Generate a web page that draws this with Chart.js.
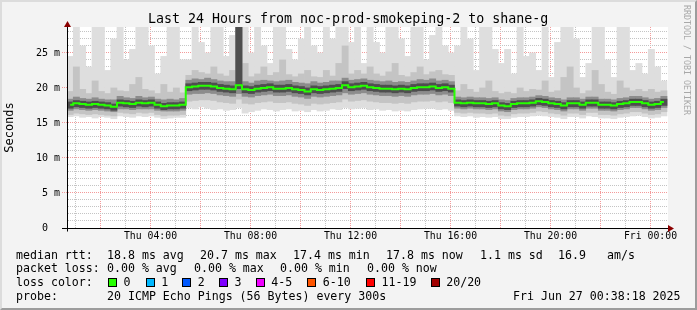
<!DOCTYPE html>
<html lang="en">
<head>
<meta charset="UTF-8">
<title>Last 24 Hours from noc-prod-smokeping-2 to shane-g</title>
<script src="https://cdn.jsdelivr.net/npm/chart.js"></script>
<style>
    body { margin: 0; background: #f3f3f3; }
    #graph { position: relative; width: 697px; height: 310px; background: #f3f3f3; overflow: hidden;
             font-family: 'DejaVu Sans Mono', monospace; color: #000; }
    #graph canvas { position: absolute; left: 0; top: 0; }
    .frame { position: absolute; left: 0; top: 0; width: 697px; height: 310px; box-sizing: border-box;
             border-top: 2px solid #dcdcdc; border-left: 2px solid #dcdcdc;
             border-right: 2px solid #9c9c9c; border-bottom: 2px solid #9c9c9c; pointer-events: none; }
    .t { position: absolute; white-space: pre; font-size: 11.6px; line-height: 14px; }
    .title { position: absolute; left: 148px; top: 11px; font-size: 13.3px; line-height: 16px; white-space: pre; }
    .credit { position: absolute; left: 682px; top: 5px; font-size: 8.3px; line-height: 10px; color: #a8a8a8;
              writing-mode: vertical-rl; white-space: pre; }
    .sq { position: absolute; top: 278px; width: 9px; height: 9px; box-sizing: border-box; border: 1px solid #000; }
</style>
</head>
<body>
<div id="graph">
    <canvas id="smoke" width="697" height="310"></canvas>
    <div class="title">Last 24 Hours from noc-prod-smokeping-2 to shane-g</div>
    <div class="credit">RRDTOOL / TOBI OETIKER</div>

    <div class="t" style="left:16px; top:248px">median rtt:</div>
    <div class="t" style="left:107px; top:248px">18.8 ms avg</div>
    <div class="t" style="left:200px; top:248px">20.7 ms max</div>
    <div class="t" style="left:293px; top:248px">17.4 ms min</div>
    <div class="t" style="left:386px; top:248px">17.8 ms now</div>
    <div class="t" style="left:480px; top:248px">1.1 ms sd</div>
    <div class="t" style="left:558px; top:248px">16.9</div>
    <div class="t" style="left:607px; top:248px">am/s</div>

    <div class="t" style="left:16px; top:261px">packet loss:</div>
    <div class="t" style="left:107px; top:261px">0.00 % avg</div>
    <div class="t" style="left:194px; top:261px">0.00 % max</div>
    <div class="t" style="left:280px; top:261px">0.00 % min</div>
    <div class="t" style="left:367px; top:261px">0.00 % now</div>

    <div class="t" style="left:16px; top:275px">loss color:</div>
    <div id="lossLegend"></div>

    <div class="t" style="left:16px; top:289px">probe:</div>
    <div class="t" style="left:107px; top:289px">20 ICMP Echo Pings (56 Bytes) every 300s</div>
    <div class="t" style="left:513px; top:289px">Fri Jun 27 00:38:18 2025</div>

    <div class="frame"></div>
</div>

<script>
    // time axis: hours since Thu 00:00, one column per 15 minutes
    const startHour = 0.66;
    const endHour = 24.70;
    const stepHours = 0.25;

    // median rtt (ms)
    const median = [
        17.6, 17.8, 17.7, 17.6, 17.7, 17.6, 17.5, 17.3, 17.9, 17.8, 17.7, 17.9, 17.8, 17.9, 17.6, 17.4,
        17.5, 17.5, 17.6, 20.1, 20.2, 20.3, 20.3, 20.2, 20.0, 19.9, 19.8, 20.4, 19.8, 19.7, 19.9, 20.0,
        20.1, 19.9, 19.9, 20.0, 19.8, 19.7, 19.5, 19.8, 19.7, 19.8, 19.9, 20.0, 20.4, 20.1, 20.2, 20.3,
        20.1, 20.0, 19.9, 19.9, 19.8, 19.9, 19.8, 20.0, 20.1, 20.1, 20.2, 20.0, 20.1, 19.9, 17.9, 17.8,
        17.9, 17.8, 17.8, 17.7, 17.8, 17.5, 17.4, 17.7, 17.8, 17.8, 17.9, 18.1, 18.0, 17.8, 17.7, 17.5,
        17.8, 17.8, 17.6, 17.9, 17.9, 17.6, 17.6, 17.5, 17.7, 17.8, 18.0, 18.0, 17.8, 17.6, 17.7, 18.0
    ];

    // smoke: highest ping of each column
    const pingMax = [
        24.5, 28.7, 26.0, 23.0, 28.7, 28.7, 22.5, 27.0, 28.7, 24.0, 25.5, 28.7, 28.7, 26.0, 22.0, 24.5,
        28.7, 28.7, 24.0, 24.0, 28.7, 26.5, 25.0, 28.7, 28.7, 24.5, 27.5, 28.7, 28.7, 25.0, 28.7, 26.0,
        23.5, 28.7, 28.7, 25.5, 24.0, 27.0, 28.7, 26.0, 25.0, 28.7, 27.0, 28.7, 28.7, 26.5, 28.7, 23.5,
        28.7, 26.5, 25.0, 28.7, 28.7, 27.0, 24.5, 28.7, 28.7, 24.0, 27.5, 28.7, 26.0, 25.0, 26.0, 28.7,
        27.0, 22.5, 28.7, 28.7, 25.5, 23.5, 25.5, 22.0, 28.7, 24.5, 25.0, 22.5, 28.7, 21.5, 26.5, 28.7,
        28.7, 27.0, 21.5, 23.5, 28.7, 28.7, 24.0, 21.5, 28.7, 28.7, 22.5, 23.5, 22.0, 25.5, 23.0, 21.0
    ];
    // upper edge of the middle grey band
    const pingHi = [
        19.5, 23.0, 19.8, 19.2, 21.0, 19.5, 19.2, 20.0, 19.6, 19.5, 20.5, 21.5, 19.8, 19.6, 19.2, 20.5,
        19.4, 20.0, 19.3, 21.8, 22.5, 22.2, 22.0, 23.0, 22.0, 21.7, 22.5, 28.7, 23.5, 21.6, 22.0, 23.0,
        21.8, 22.2, 24.0, 21.9, 21.6, 22.0, 22.5, 21.6, 21.5, 22.5, 21.7, 23.5, 26.0, 22.0, 22.5, 22.0,
        23.0, 22.0, 21.7, 22.3, 23.5, 21.8, 21.6, 22.2, 23.0, 21.9, 22.3, 22.5, 21.9, 21.8, 19.6, 20.5,
        19.8, 19.4, 20.0, 21.0, 19.5, 19.2, 19.4, 19.2, 20.0, 19.5, 19.8, 19.7, 21.0, 19.4, 19.6, 21.5,
        23.0, 20.0, 19.2, 19.6, 22.5, 20.5, 19.4, 19.1, 21.0, 20.0, 19.6, 19.8, 19.5, 19.8, 19.4, 19.6
    ];
    // upper edge of the dark band around the median
    const pingUp = [
        18.4, 18.7, 18.5, 18.4, 18.6, 18.4, 18.3, 18.3, 18.8, 18.6, 18.5, 18.8, 18.6, 18.7, 18.4, 18.3,
        18.4, 18.3, 18.5, 21.1, 21.3, 21.2, 21.4, 21.2, 21.0, 20.9, 20.9, 28.7, 20.9, 20.7, 21.0, 21.1,
        21.0, 20.9, 21.0, 21.1, 20.8, 20.7, 20.6, 20.9, 20.7, 20.8, 21.0, 21.0, 21.4, 21.1, 21.2, 21.3,
        21.1, 21.0, 20.9, 21.0, 20.8, 20.9, 20.8, 21.0, 21.2, 21.1, 21.3, 21.0, 21.1, 20.9, 18.7, 18.6,
        18.7, 18.6, 18.6, 18.5, 18.6, 18.3, 18.2, 18.5, 18.6, 18.6, 18.7, 18.9, 18.8, 18.6, 18.5, 18.3,
        18.6, 18.6, 18.4, 18.7, 18.7, 18.4, 18.4, 18.3, 18.5, 18.6, 18.8, 18.8, 18.6, 18.4, 18.5, 18.8
    ];
    // upper edge of the darkest core right round the median
    const coreUp = [
        18.0, 18.2, 18.1, 18.0, 18.1, 18.0, 17.9, 17.7, 18.3, 18.2, 18.1, 18.3, 18.2, 18.3, 18.0, 17.8,
        17.9, 17.9, 18.0, 20.6, 20.7, 20.8, 20.8, 20.7, 20.5, 20.4, 20.3, 28.7, 20.3, 20.2, 20.4, 20.5,
        20.6, 20.4, 20.4, 20.5, 20.3, 20.2, 20.0, 20.3, 20.2, 20.3, 20.4, 20.5, 20.9, 20.6, 20.7, 20.8,
        20.6, 20.5, 20.4, 20.4, 20.3, 20.4, 20.3, 20.5, 20.6, 20.6, 20.7, 20.5, 20.6, 20.4, 18.3, 18.2,
        18.3, 18.2, 18.2, 18.1, 18.2, 17.9, 17.8, 18.1, 18.2, 18.2, 18.3, 18.5, 18.4, 18.2, 18.1, 17.9,
        18.2, 18.2, 18.0, 18.3, 18.3, 18.0, 18.0, 17.9, 18.1, 18.2, 18.4, 18.4, 18.2, 18.0, 18.1, 18.4
    ];
    // lower edge of the darkest core
    const coreDn = [
        17.1, 17.3, 17.2, 17.1, 17.2, 17.1, 17.0, 16.8, 17.4, 17.3, 17.2, 17.4, 17.3, 17.4, 17.1, 16.9,
        17.0, 17.0, 17.1, 19.6, 19.7, 19.8, 19.8, 19.7, 19.5, 19.4, 19.3, 19.9, 19.3, 19.2, 19.4, 19.5,
        19.6, 19.4, 19.4, 19.5, 19.3, 19.2, 19.0, 19.3, 19.2, 19.3, 19.4, 19.5, 19.9, 19.6, 19.7, 19.8,
        19.6, 19.5, 19.4, 19.4, 19.3, 19.4, 19.3, 19.5, 19.6, 19.6, 19.7, 19.5, 19.6, 19.4, 17.4, 17.3,
        17.4, 17.3, 17.3, 17.2, 17.3, 17.0, 16.9, 17.2, 17.3, 17.3, 17.4, 17.6, 17.5, 17.3, 17.2, 17.0,
        17.3, 17.3, 17.1, 17.4, 17.4, 17.1, 17.1, 17.0, 17.2, 17.3, 17.5, 17.5, 17.3, 17.1, 17.2, 17.5
    ];
    // lower edge of the dark band
    const pingDn = [
        16.8, 17.0, 16.9, 16.8, 16.9, 16.8, 16.7, 16.6, 17.0, 17.0, 16.9, 17.0, 17.0, 17.0, 16.8, 16.7,
        16.7, 16.7, 16.8, 19.1, 19.2, 19.2, 19.3, 19.2, 19.0, 18.9, 18.8, 19.2, 18.8, 18.7, 18.9, 19.0,
        19.1, 18.9, 18.9, 19.0, 18.8, 18.7, 18.5, 18.8, 18.7, 18.8, 18.9, 19.0, 19.3, 19.1, 19.2, 19.3,
        19.1, 19.0, 18.9, 18.9, 18.8, 18.9, 18.8, 19.0, 19.1, 19.1, 19.2, 19.0, 19.1, 18.9, 17.1, 17.0,
        17.1, 17.0, 17.0, 16.9, 17.0, 16.7, 16.6, 16.9, 17.0, 17.0, 17.1, 17.3, 17.2, 17.0, 16.9, 16.7,
        17.0, 17.0, 16.8, 17.1, 17.1, 16.8, 16.8, 16.7, 16.9, 17.0, 17.2, 17.2, 17.0, 16.8, 16.9, 17.2
    ];
    // lower edge of the middle grey band
    const pingLo = [
        16.2, 16.4, 16.3, 16.2, 16.3, 16.2, 16.1, 16.0, 16.5, 16.4, 16.3, 16.5, 16.4, 16.5, 16.2, 16.0,
        16.1, 16.1, 16.2, 18.1, 18.2, 18.3, 18.3, 18.2, 18.0, 17.9, 17.8, 18.4, 17.8, 17.7, 17.9, 18.0,
        18.1, 17.9, 17.9, 18.0, 17.8, 17.7, 17.5, 17.8, 17.7, 17.8, 17.9, 18.0, 18.4, 18.1, 18.2, 18.3,
        18.1, 18.0, 17.9, 17.9, 17.8, 17.9, 17.8, 18.0, 18.1, 18.1, 18.2, 18.0, 18.1, 17.9, 16.5, 16.4,
        16.5, 16.4, 16.4, 16.3, 16.4, 16.1, 16.0, 16.3, 16.4, 16.4, 16.5, 16.7, 16.6, 16.4, 16.3, 16.1,
        16.4, 16.4, 16.2, 16.5, 16.5, 16.2, 16.2, 16.1, 16.3, 16.4, 16.6, 16.6, 16.4, 16.2, 16.3, 16.6
    ];
    // lowest ping of each column
    const pingMin = [
        15.9, 16.0, 15.8, 15.9, 15.7, 15.9, 15.8, 15.6, 16.0, 15.9, 15.8, 16.0, 15.9, 16.0, 15.8, 15.6,
        15.7, 15.8, 15.8, 17.2, 17.0, 17.3, 17.1, 16.9, 17.0, 16.8, 16.9, 17.2, 16.4, 16.6, 16.8, 17.0,
        16.9, 16.7, 16.9, 17.0, 16.7, 16.8, 16.6, 16.9, 16.7, 16.8, 17.0, 16.9, 17.2, 17.0, 17.1, 17.2,
        16.9, 17.0, 16.8, 16.9, 16.7, 16.8, 16.7, 16.9, 17.0, 17.1, 17.1, 16.9, 17.0, 16.8, 16.0, 15.9,
        16.0, 15.8, 15.9, 15.8, 15.9, 15.6, 15.6, 15.8, 15.9, 15.9, 16.0, 16.1, 16.0, 15.9, 15.8, 15.6,
        15.9, 15.9, 15.7, 16.0, 15.9, 15.7, 15.7, 15.6, 15.8, 15.9, 16.0, 16.1, 15.9, 15.7, 15.8, 16.0
    ];

    // axes
    const yMax = 28.7;
    const yTicks = [0, 1, 2, 3, 4, 5, 6, 7, 8, 9, 10, 11, 12, 13, 14, 15, 16, 17, 18, 19, 20, 21, 22, 23, 24, 25, 26, 27, 28];
    const yLabels = { 0: '0  ', 5: '5 m', 10: '10 m', 15: '15 m', 20: '20 m', 25: '25 m' };
    const xTicks = [1, 2, 3, 4, 5, 6, 7, 8, 9, 10, 11, 12, 13, 14, 15, 16, 17, 18, 19, 20, 21, 22, 23, 24];
    const xLabels = { 4: 'Thu 04:00', 8: 'Thu 08:00', 12: 'Thu 12:00', 16: 'Thu 16:00', 20: 'Thu 20:00', 24: 'Fri 00:00' };

    // loss colour legend
    const lossNames = ['0', '1', '2', '3', '4-5', '6-10', '11-19', '20/20'];
    const lossColors = ['#26ff00', '#00b8ff', '#0059ff', '#7e00ff', '#f000ff', '#ff5500', '#ff0000', '#a10000'];
    const lossLeft = [108, 145.7, 182.3, 219, 255.7, 307.3, 366, 430.7];

    const legendBox = document.getElementById('lossLegend');
    lossNames.forEach((name, i) => {
        const sq = document.createElement('div');
        sq.className = 'sq';
        sq.style.left = lossLeft[i] + 'px';
        sq.style.background = lossColors[i];
        legendBox.appendChild(sq);
        const lbl = document.createElement('div');
        lbl.className = 't';
        lbl.style.left = (lossLeft[i] + 15.5) + 'px';
        lbl.style.top = '275px';
        lbl.textContent = name;
        legendBox.appendChild(lbl);
    });

    const times = median.map((_, i) => startHour + (i + 0.5) * stepHours);
    const band = (lo, hi) => times.map((t, i) => ({ x: t, y: [lo[i], hi[i]] }));

    // white plot area
    const plotBackground = {
        id: 'plotBackground',
        beforeDraw(chart) {
            const { ctx, chartArea: a } = chart;
            ctx.save();
            ctx.fillStyle = '#ffffff';
            ctx.fillRect(a.left, a.top, a.right - a.left, a.bottom - a.top);
            ctx.restore();
        }
    };

    // rrdtool style axis lines with arrow heads
    const axisArrows = {
        id: 'axisArrows',
        afterDraw(chart) {
            const { ctx, chartArea: a } = chart;
            const x0 = Math.round(a.left) + 0.5;
            const y0 = Math.round(a.bottom) + 0.5;
            ctx.save();
            ctx.strokeStyle = '#000';
            ctx.lineWidth = 1;
            ctx.beginPath();
            ctx.moveTo(x0, y0 + 3);
            ctx.lineTo(x0, a.top - 3);
            ctx.moveTo(a.left - 5, y0);
            ctx.lineTo(a.right + 1, y0);
            ctx.stroke();
            ctx.fillStyle = '#8b0000';
            ctx.beginPath();
            ctx.moveTo(x0, a.top - 6);
            ctx.lineTo(x0 - 3.5, a.top);
            ctx.lineTo(x0 + 3.5, a.top);
            ctx.closePath();
            ctx.fill();
            ctx.beginPath();
            ctx.moveTo(a.right + 6, y0);
            ctx.lineTo(a.right, y0 - 3.5);
            ctx.lineTo(a.right, y0 + 3.5);
            ctx.closePath();
            ctx.fill();
            ctx.restore();
        }
    };

    Chart.defaults.font.family = "'DejaVu Sans Mono', monospace";
    Chart.defaults.color = '#000';

    const barStyle = { type: 'bar', grouped: false, barPercentage: 1, categoryPercentage: 1, borderWidth: 0 };
    const majorGrid = '#f49a9a';
    const minorGrid = '#c4c4c4';

    new Chart(document.getElementById('smoke').getContext('2d'), {
        type: 'bar',
        data: {
            datasets: [
                {
                    type: 'line',
                    label: 'median rtt',
                    data: times.map((t, i) => ({ x: t, y: median[i] })),
                    borderColor: '#26ff00',
                    borderWidth: 2,
                    pointRadius: 0,
                    stepped: 'middle',
                    fill: false,
                },
                { ...barStyle, label: 'core', data: band(coreDn, coreUp), backgroundColor: '#4e4e4e' },
                { ...barStyle, label: 'dark', data: band(pingDn, pingUp), backgroundColor: '#8c8c8c' },
                { ...barStyle, label: 'mid', data: band(pingLo, pingHi), backgroundColor: '#c4c4c4' },
                { ...barStyle, label: 'light', data: band(pingMin, pingMax), backgroundColor: '#dedede' },
            ],
        },
        options: {
            responsive: false,
            animation: false,
            devicePixelRatio: 1,
            layout: { padding: { top: 27, right: 29, bottom: 0, left: 0 } },
            plugins: { legend: { display: false }, tooltip: { enabled: false } },
            scales: {
                x: {
                    type: 'linear',
                    min: startHour,
                    max: endHour,
                    offset: false,
                    z: 1,
                    afterBuildTicks: (s) => { s.ticks = xTicks.map(v => ({ value: v })); },
                    afterFit: (s) => { s.height = 82; },
                    grid: {
                        offset: false,
                        color: (c) => (c.tick && c.tick.value % 2 === 0 ? majorGrid : minorGrid),
                        tickLength: 3,
                        tickColor: 'transparent',
                    },
                    border: { color: '#000', dash: [1, 1] },
                    ticks: {
                        autoSkip: false,
                        maxRotation: 0,
                        padding: 0,
                        font: { size: 9.8 },
                        callback: (v) => xLabels[v] || '',
                    },
                },
                y: {
                    min: 0,
                    max: yMax,
                    z: 1,
                    afterBuildTicks: (s) => { s.ticks = yTicks.map(v => ({ value: v })); },
                    afterFit: (s) => { s.width = 67; },
                    grid: {
                        color: (c) => {
                            const v = c.tick ? c.tick.value : -1;
                            if (v === 0) return 'transparent';
                            return v % 5 === 0 ? majorGrid : minorGrid;
                        },
                        tickLength: 5,
                        tickColor: (c) => {
                            const v = c.tick ? c.tick.value : -1;
                            if (v === 0) return '#000';
                            return v % 5 === 0 ? majorGrid : 'transparent';
                        },
                        tickBorderDash: [1, 1],
                    },
                    border: { color: '#000', dash: [1, 1] },
                    ticks: {
                        autoSkip: false,
                        padding: 2,
                        font: { size: 10 },
                        callback: (v) => yLabels[v] || '',
                    },
                    title: {
                        display: true,
                        text: 'Seconds',
                        font: { size: 12 },
                        padding: { top: 3, bottom: 0 },
                    },
                },
            },
        },
        plugins: [plotBackground, axisArrows],
    });
</script>
</body>
</html>
